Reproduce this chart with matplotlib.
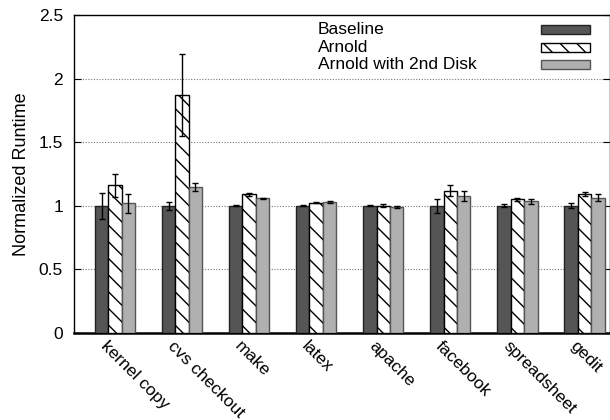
import matplotlib
matplotlib.use('Agg')
from matplotlib import pyplot as plt
from matplotlib.patches import Rectangle
import numpy as np

plt.rcParams['font.family'] = ['Liberation Sans', 'DejaVu Sans']
plt.rcParams['hatch.linewidth'] = 1.0

# ベンチマーク名と各構成の正規化実行時間
benchmarks = ['kernel copy', 'cvs checkout', 'make', 'latex', 'apache',
              'facebook', 'spreadsheet', 'gedit']
baseline = [1.00, 1.00, 1.00, 1.00, 1.00, 1.00, 1.00, 1.00]
baseline_err = [0.10, 0.03, 0.003, 0.003, 0.003, 0.055, 0.012, 0.02]
arnold = [1.16, 1.87, 1.09, 1.025, 1.00, 1.12, 1.05, 1.09]
arnold_err = [0.09, 0.32, 0.01, 0.003, 0.012, 0.045, 0.015, 0.015]
disk2 = [1.02, 1.15, 1.06, 1.03, 0.99, 1.08, 1.035, 1.065]
disk2_err = [0.075, 0.03, 0.003, 0.005, 0.005, 0.04, 0.02, 0.03]
labels = ['Baseline', 'Arnold', 'Arnold with 2nd Disk']
yticks = [0, 0.5, 1, 1.5, 2, 2.5]
yticklabels = ['0', '0.5', '1', '1.5', '2', '2.5']

fs = 12.5

fig = plt.figure(figsize=(6.1, 4.2), dpi=100)
ax = fig.add_axes([74/610, 1-333/420, 536/610, 318/420])

x = np.arange(len(benchmarks))
w = 0.2
err_kw = dict(ecolor='black', elinewidth=1, capsize=2.5, capthick=1)
ax.bar(x - w, baseline, w, yerr=baseline_err, color='#555555',
       edgecolor='#222222', linewidth=1, error_kw=err_kw, zorder=3)
ax.bar(x, arnold, w, yerr=arnold_err, color='white', hatch='\\\\',
       edgecolor='black', linewidth=1, error_kw=err_kw, zorder=3)
ax.bar(x + w, disk2, w, yerr=disk2_err, color='#b0b0b0',
       edgecolor='#555555', linewidth=1, error_kw=err_kw, zorder=3)

ax.set_xlim(-0.61, 7.38)
ax.set_ylim(0, 2.5)
ax.set_yticks(yticks)
ax.set_yticklabels(yticklabels, fontsize=fs)
ax.tick_params(axis='y', direction='in', length=5, right=True, pad=8)
ax.set_xticks(x)
ax.set_xticklabels([])
ax.tick_params(axis='x', length=0)
for i, name in enumerate(benchmarks):
    ax.text(i - 0.10, -0.04, name, rotation=-45, rotation_mode='anchor',
            ha='left', va='top', fontsize=fs, transform=ax.transData)

for y in [0.5, 1, 1.5, 2]:
    ax.axhline(y, color='#777777', linestyle=(0, (1, 1.5)), linewidth=0.8, zorder=1)

for s in ax.spines.values():
    s.set_linewidth(1)
ax.spines['bottom'].set_linewidth(1.8)

ax.set_ylabel('Normalized Runtime', fontsize=13, labelpad=6)

# 凡例（gnuplot風に文字が左、見本が右）
fills = [dict(facecolor='#555555', edgecolor='#222222'),
         dict(facecolor='white', edgecolor='black', hatch='\\\\'),
         dict(facecolor='#b0b0b0', edgecolor='#555555')]
rows = [0.953, 0.898, 0.843]
for lab, f, yy in zip(labels, fills, rows):
    ax.text(0.455, yy, lab, transform=ax.transAxes, fontsize=fs,
            ha='left', va='center')
    ax.add_patch(Rectangle((0.871, yy - 0.014), 0.092, 0.028,
                           transform=ax.transAxes, linewidth=1, zorder=4, **f))

fig.savefig('out.png', dpi=100)
